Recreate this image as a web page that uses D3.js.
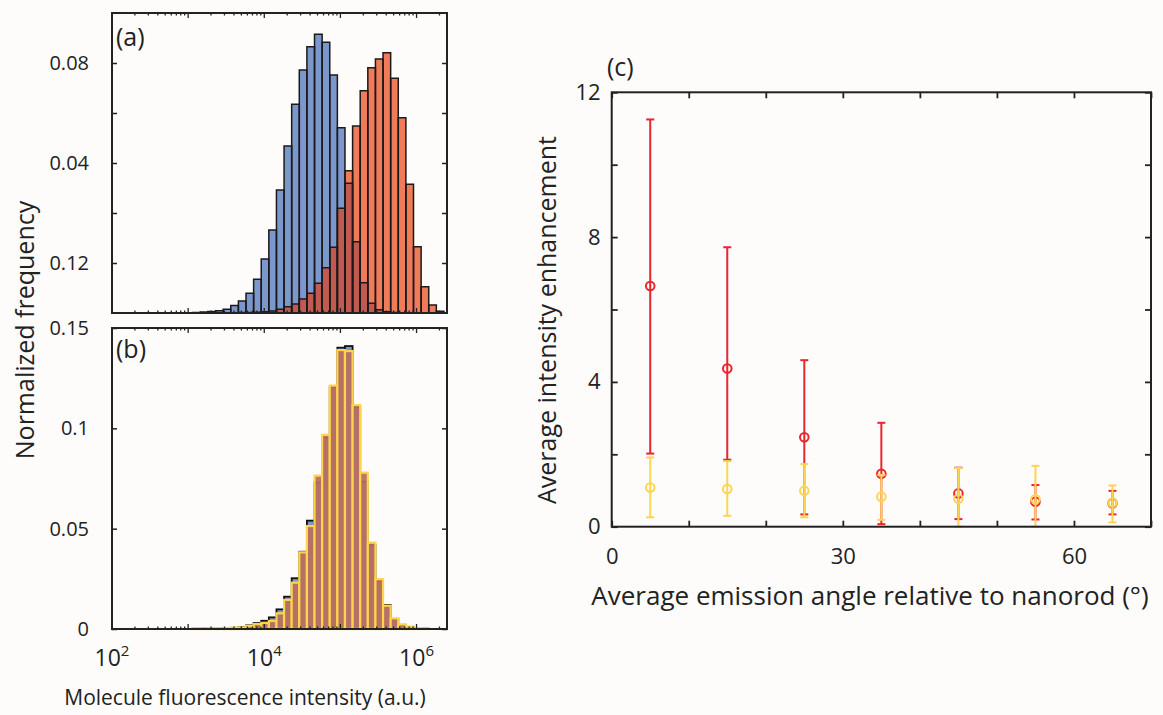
<!DOCTYPE html>
<html>
<head>
<meta charset="utf-8">
<script src="https://cdn.jsdelivr.net/npm/d3@7"></script>
<style>
  body { margin: 0; background: #fdfcfa; }
  svg text { font-family: "Open Sans", "Noto Sans", sans-serif; fill: #222; }
</style>
</head>
<body>
<div id="chart"></div>
<script>
// histogram bins: lower edge of each bin as log10(intensity), width 0.1 decade
const binLog = [3.06, 3.16, 3.26, 3.36, 3.46, 3.56, 3.66, 3.76, 3.86, 3.96,
                4.06, 4.16, 4.26, 4.36, 4.46, 4.56, 4.66, 4.76, 4.86, 4.96,
                5.06, 5.16, 5.26, 5.36, 5.46, 5.56, 5.66, 5.76, 5.86, 5.96,
                6.06, 6.16, 6.26];

// panel (a)
const blueA = [0.0002, 0.0004, 0.0006, 0.0009, 0.0015, 0.0030, 0.0048, 0.0079, 0.0135, 0.0216,
               0.0332, 0.0492, 0.0668, 0.0835, 0.0972, 0.1065, 0.1115, 0.1083, 0.0952, 0.0741,
               0.0519, 0.0285, 0.0121, 0.0039, 0.0013, 0.0005, 0.0002, 0, 0, 0,
               0, 0, 0];
const orangeA = [0, 0, 0, 0.0001, 0.0001, 0.0001, 0.0002, 0.0002, 0.0003, 0.0005,
                 0.0008, 0.0015, 0.0025, 0.0036, 0.0056, 0.0079, 0.0119, 0.0181, 0.0263, 0.0419,
                 0.0569, 0.0748, 0.0889, 0.0981, 0.1016, 0.1041, 0.0939, 0.0781, 0.0515, 0.0265,
                 0.0105, 0.0032, 0.0007];

// panel (b)
const blackB = [0.0002, 0.0003, 0.0003, 0.0004, 0.0005, 0.0006, 0.0010, 0.0018, 0.0030, 0.0041,
                0.0058, 0.0098, 0.0161, 0.0253, 0.0385, 0.0540, 0.0730, 0.0955, 0.1205, 0.1402,
                0.1410, 0.1105, 0.0734, 0.0418, 0.0240, 0.0120, 0.0050, 0.0020, 0.0010, 0.0004,
                0.0002, 0, 0];
const yellowB = [0.0003, 0.0003, 0.0004, 0.0004, 0.0005, 0.0006, 0.0008, 0.0015, 0.0025, 0.0030,
                 0.0040, 0.0078, 0.0145, 0.0231, 0.0382, 0.0513, 0.0764, 0.0967, 0.1213, 0.1390,
                 0.1385, 0.1116, 0.0779, 0.0430, 0.0248, 0.0116, 0.0053, 0.0023, 0.0012, 0.0004,
                 0.0002, 0, 0];

// tick labels of (a) and (b), as printed in the figure
const tickValsA = [0.10, 0.06, 0.02];
const tickLabelsA = ["0.08", "0.04", "0.12"];
const tickValsB = [0, 0.05, 0.1, 0.15];
const tickLabelsB = ["0", "0.05", "0.1", "0.15"];
const decadeExps = [2, 4, 6];

// panel (c)
const angles = [5, 15, 25, 35, 45, 55, 65];
const redMean = [6.65, 4.37, 2.47, 1.46, 0.92, 0.69, 0.65];
const redLow = [2.02, 1.85, 0.34, 0.07, 0.21, 0.20, 0.34];
const redHigh = [11.25, 7.72, 4.60, 2.87, 1.63, 1.15, 0.99];
const yellowMean = [1.08, 1.04, 0.99, 0.83, 0.77, 0.76, 0.67];
const yellowLow = [0.26, 0.30, 0.26, 0.19, 0.00, 0.00, 0.12];
const yellowHigh = [1.91, 1.81, 1.73, 1.43, 1.62, 1.68, 1.14];

const width = 1163, height = 715;
const svg = d3.select("#chart").append("svg")
  .attr("width", width)
  .attr("height", height);

svg.append("rect")
  .attr("width", width)
  .attr("height", height)
  .attr("fill", "#fdfcfa");

const axisColor = "#222";
const binWidth = 0.1;

const x = d3.scaleLog().domain([100, Math.pow(10, 6.4)]).range([112, 447]);
const yA = d3.scaleLinear().domain([0, 0.12]).range([313, 13]);
const yB = d3.scaleLinear().domain([0, 0.15]).range([629, 328]);

function binRect(sel, yScale) {
  sel.attr("x", (d, i) => x(Math.pow(10, binLog[i])))
     .attr("width", (d, i) => x(Math.pow(10, binLog[i] + binWidth)) - x(Math.pow(10, binLog[i])))
     .attr("y", d => yScale(d))
     .attr("height", d => yScale(0) - yScale(d))
     .attr("display", d => d > 0 ? null : "none");
}

// log ticks: majors at decades, minors at 2..9
const logTicks = [];
for (let e = 2; e <= 6; e++) {
  for (let m = 1; m <= 9; m++) {
    const v = m * Math.pow(10, e);
    if (v <= x.domain()[1]) logTicks.push({ v: v, major: m === 1 });
  }
}

function drawFrame(g, yScale) {
  const [x0, x1] = x.range();
  const [yb, yt] = yScale.range();
  // ticks on top and bottom
  g.append("g").selectAll("line.tb")
    .data(logTicks.concat(logTicks.map(t => Object.assign({ bottom: true }, t))))
    .enter().append("line")
      .attr("x1", d => x(d.v)).attr("x2", d => x(d.v))
      .attr("y1", d => d.bottom ? yb : yt)
      .attr("y2", d => {
        const len = d.major ? 5 : 2.5;
        return d.bottom ? yb - len : yt + len;
      })
      .attr("stroke", axisColor).attr("stroke-width", 1.3);
  g.append("rect")
    .attr("x", x0).attr("y", yt)
    .attr("width", x1 - x0).attr("height", yb - yt)
    .attr("fill", "none").attr("stroke", axisColor).attr("stroke-width", 2);
}

// ---------- panel (a) ----------
const gA = svg.append("g");
gA.append("g").selectAll("rect").data(blueA).enter().append("rect")
  .call(binRect, yA)
  .attr("fill", "#7c97cc");
gA.append("g").selectAll("rect").data(orangeA).enter().append("rect")
  .call(binRect, yA)
  .attr("fill", "#ef7b58");
gA.append("g").selectAll("rect").data(blueA.map((b, i) => Math.min(b, orangeA[i]))).enter().append("rect")
  .call(binRect, yA)
  .attr("fill", "#c15a50");
[blueA, orangeA].forEach(vals => {
  gA.append("g").selectAll("rect").data(vals).enter().append("rect")
    .call(binRect, yA)
    .attr("fill", "none")
    .attr("stroke", "#1a1a1a")
    .attr("stroke-width", 1.5);
});

gA.append("g")
  .attr("transform", `translate(${x.range()[0]},0)`)
  .call(d3.axisLeft(yA).tickValues([0.02, 0.04, 0.06, 0.08, 0.10]).tickSize(-5).tickPadding(23)
    .tickFormat(d => {
      const k = tickValsA.findIndex(v => Math.abs(v - d) < 1e-9);
      return k >= 0 ? tickLabelsA[k] : "";
    }))
  .call(g => g.select(".domain").remove())
  .call(g => g.selectAll("line").attr("stroke", axisColor).attr("stroke-width", 1.5))
  .call(g => g.selectAll("text").style("font-size", "20px").attr("fill", "#222"));
gA.append("g")
  .attr("transform", `translate(${x.range()[1]},0)`)
  .call(d3.axisRight(yA).tickValues([0.02, 0.04, 0.06, 0.08, 0.10]).tickSize(-5).tickFormat(""))
  .call(g => g.select(".domain").remove())
  .call(g => g.selectAll("line").attr("stroke", axisColor).attr("stroke-width", 1.5));
drawFrame(gA, yA);
gA.append("text").attr("x", 116).attr("y", 46).style("font-size", "25px").text("(a)");

// ---------- panel (b) ----------
const gB = svg.append("g");
gB.append("g").selectAll("rect").data(blackB).enter().append("rect")
  .call(binRect, yB)
  .attr("fill", "#7c97cc")
  .attr("stroke", "#111")
  .attr("stroke-width", 1.8);
gB.append("g").selectAll("rect").data(yellowB).enter().append("rect")
  .call(binRect, yB)
  .attr("fill", "#b96e5c")
  .attr("fill-opacity", 0.93)
  .attr("stroke", "#fdd44c")
  .attr("stroke-width", 2.2);

gB.append("g")
  .attr("transform", `translate(${x.range()[0]},0)`)
  .call(d3.axisLeft(yB).tickValues(tickValsB).tickSize(-5).tickPadding(23)
    .tickFormat((d, i) => tickLabelsB[i]))
  .call(g => g.select(".domain").remove())
  .call(g => g.selectAll("line").attr("stroke", axisColor).attr("stroke-width", 1.5))
  .call(g => g.selectAll("text").style("font-size", "20px").attr("fill", "#222"));
gB.append("g")
  .attr("transform", `translate(${x.range()[1]},0)`)
  .call(d3.axisRight(yB).tickValues(tickValsB).tickSize(-5).tickFormat(""))
  .call(g => g.select(".domain").remove())
  .call(g => g.selectAll("line").attr("stroke", axisColor).attr("stroke-width", 1.5));
drawFrame(gB, yB);
gB.append("text").attr("x", 116).attr("y", 358).style("font-size", "25px").text("(b)");

// decade labels 10^n
const decLabels = svg.append("g").selectAll("text").data(decadeExps).enter().append("text")
  .attr("x", d => x(Math.pow(10, d)))
  .attr("y", 666)
  .attr("text-anchor", "middle")
  .style("font-size", "23px");
decLabels.append("tspan").text("10");
decLabels.append("tspan").attr("dy", -10).style("font-size", "15px").text(d => d);

svg.append("text")
  .attr("x", 245).attr("y", 705)
  .attr("text-anchor", "middle")
  .style("font-size", "21px")
  .text("Molecule fluorescence intensity (a.u.)");

svg.append("text")
  .attr("transform", "translate(34,330) rotate(-90)")
  .attr("text-anchor", "middle")
  .style("font-size", "25px")
  .text("Normalized frequency");

// ---------- panel (c) ----------
const xC = d3.scaleLinear().domain([0, 70]).range([611.7, 1151]);
const yC = d3.scaleLinear().domain([0, 12]).range([526.7, 92.3]);
const gC = svg.append("g");

const yTicksC = d3.range(0, 12.01, 2);
const xTicksC = d3.range(0, 70.01, 10);

gC.append("g")
  .attr("transform", `translate(${xC.range()[0]},0)`)
  .call(d3.axisLeft(yC).tickValues(yTicksC).tickSize(-6).tickPadding(11)
    .tickFormat(d => d % 4 === 0 ? d : ""))
  .call(g => g.select(".domain").remove())
  .call(g => g.selectAll("text").style("font-size", "22px").attr("fill", "#222"));
gC.append("g")
  .attr("transform", `translate(${xC.range()[1]},0)`)
  .call(d3.axisRight(yC).tickValues(yTicksC).tickSize(-6).tickFormat(""))
  .call(g => g.select(".domain").remove());
gC.append("g")
  .attr("transform", `translate(0,${yC.range()[0]})`)
  .call(d3.axisBottom(xC).tickValues(xTicksC).tickSize(-6).tickPadding(22)
    .tickFormat(d => d % 30 === 0 ? d : ""))
  .call(g => g.select(".domain").remove())
  .call(g => g.selectAll("text").style("font-size", "22px").attr("fill", "#222"));
gC.append("g")
  .attr("transform", `translate(0,${yC.range()[1]})`)
  .call(d3.axisTop(xC).tickValues(xTicksC).tickSize(-6).tickFormat(""))
  .call(g => g.select(".domain").remove());
gC.selectAll("line").attr("stroke", axisColor).attr("stroke-width", 1.8);

function drawSeries(mean, lo, hi, color) {
  const g = gC.append("g").attr("stroke", color).attr("fill", "none").attr("stroke-width", 2);
  g.selectAll("line.bar").data(angles).enter().append("line")
    .attr("x1", d => xC(d)).attr("x2", d => xC(d))
    .attr("y1", (d, i) => yC(lo[i])).attr("y2", (d, i) => yC(hi[i]));
  [lo, hi].forEach(arr => {
    g.selectAll(null).data(angles).enter().append("line")
      .attr("x1", d => xC(d) - 4).attr("x2", d => xC(d) + 4)
      .attr("y1", (d, i) => yC(arr[i])).attr("y2", (d, i) => yC(arr[i]));
  });
  g.selectAll("circle").data(angles).enter().append("circle")
    .attr("cx", d => xC(d)).attr("cy", (d, i) => yC(mean[i]))
    .attr("r", 4.3);
}
drawSeries(redMean, redLow, redHigh, "#e8262b");
drawSeries(yellowMean, yellowLow, yellowHigh, "#fed453");

gC.append("rect")
  .attr("x", xC.range()[0]).attr("y", yC.range()[1])
  .attr("width", xC.range()[1] - xC.range()[0])
  .attr("height", yC.range()[0] - yC.range()[1])
  .attr("fill", "none").attr("stroke", axisColor).attr("stroke-width", 2);

gC.append("text").attr("x", 607).attr("y", 76).style("font-size", "25px").text("(c)");

svg.append("text")
  .attr("x", 870).attr("y", 605)
  .attr("text-anchor", "middle")
  .style("font-size", "26px")
  .text("Average emission angle relative to nanorod (°)");

svg.append("text")
  .attr("transform", "translate(556,320) rotate(-90)")
  .attr("text-anchor", "middle")
  .style("font-size", "25px")
  .text("Average intensity enhancement");
</script>
</body>
</html>
